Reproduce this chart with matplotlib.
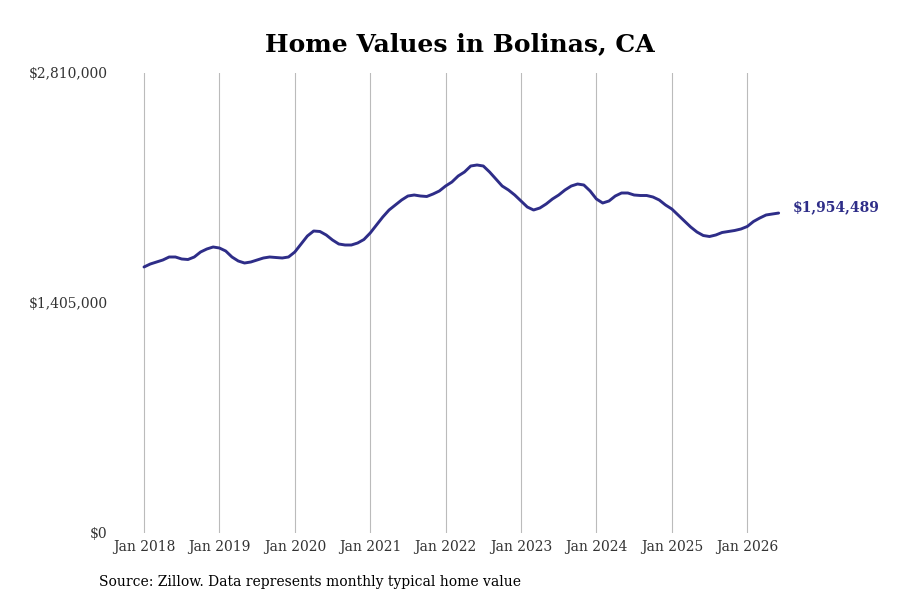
import numpy as np
import pandas as pd
import matplotlib
matplotlib.use("Agg")
import matplotlib.pyplot as plt

# monthly typical home value, Jan 2018 .. Jun 2026
months = pd.date_range("2018-01-01", "2026-06-01", freq="MS")
values = [
    1625000, 1643200, 1655500, 1667700, 1686000, 1686000,
    1673800, 1670700, 1686000, 1716500, 1734900, 1747100,
    1741000, 1722700, 1686000, 1661600, 1649300, 1655500,
    1667700, 1679900, 1686000, 1682900, 1679900, 1686000,
    1716500, 1765400, 1814300, 1844800, 1841800, 1820400,
    1789800, 1765400, 1759300, 1759300, 1771500, 1792900,
    1832600, 1881500, 1930300, 1973100, 2003700, 2034200,
    2058600, 2064700, 2058600, 2055600, 2070800, 2089200,
    2119700, 2144100, 2180800, 2205200, 2241900, 2248000,
    2241900, 2205200, 2162500, 2119700, 2095300, 2064700,
    2028100, 1991400, 1973100, 1985300, 2009800, 2040300,
    2064700, 2095300, 2119700, 2131900, 2125800, 2089200,
    2040300, 2015900, 2028100, 2058600, 2077000, 2077000,
    2064700, 2061700, 2061700, 2052500, 2034200, 2003700,
    1979200, 1942600, 1905900, 1869300, 1838700, 1817300,
    1811200, 1820400, 1835700, 1841800, 1847900, 1857000,
    1872300, 1902900, 1924200, 1942600, 1948700, 1954489,
]
y_ticks = [0, 1405000, 2810000]
y_labels = ["$0", "$1,405,000", "$2,810,000"]
x_labels = ["Jan %d" % yr for yr in range(2018, 2027)]

line_color = "#2e2d88"
plt.rcParams["font.family"] = "DejaVu Serif"

fig = plt.figure(figsize=(9, 6), dpi=100)
ax = fig.add_axes([120 / 900, 67 / 600, 680 / 900, 460 / 600])

x = np.arange(len(values))
ax.plot(x, values, color=line_color, lw=2.1, solid_capstyle="round")

ax.set_ylim(0, 2810000)
ax.set_xlim(-3.82, 104.4)
ax.set_yticks(y_ticks)
ax.set_yticklabels(y_labels)
ax.set_xticks(np.arange(0, 97, 12))
ax.set_xticklabels(x_labels)
ax.tick_params(axis="both", length=0, labelsize=10, labelcolor="#333333")
ax.tick_params(axis="x", pad=5)
ax.tick_params(axis="y", pad=9)
ax.grid(axis="x", color="#bbbbbb", lw=0.8)
ax.set_axisbelow(True)
for s in ax.spines.values():
    s.set_visible(False)

ax.annotate("$%s" % format(values[-1], ","), (x[-1], values[-1]),
            xytext=(10, 4), textcoords="offset points", va="center",
            ha="left", fontsize=10, fontweight="bold", color=line_color)

fig.text(460 / 900, 1 - 44 / 600, "Home Values in Bolinas, CA",
         ha="center", va="center", fontsize=18, fontweight="bold")
fig.text(99 / 900, 1 - 582 / 600,
         "Source: Zillow. Data represents monthly typical home value",
         ha="left", va="center", fontsize=10)

fig.savefig("out.png")
